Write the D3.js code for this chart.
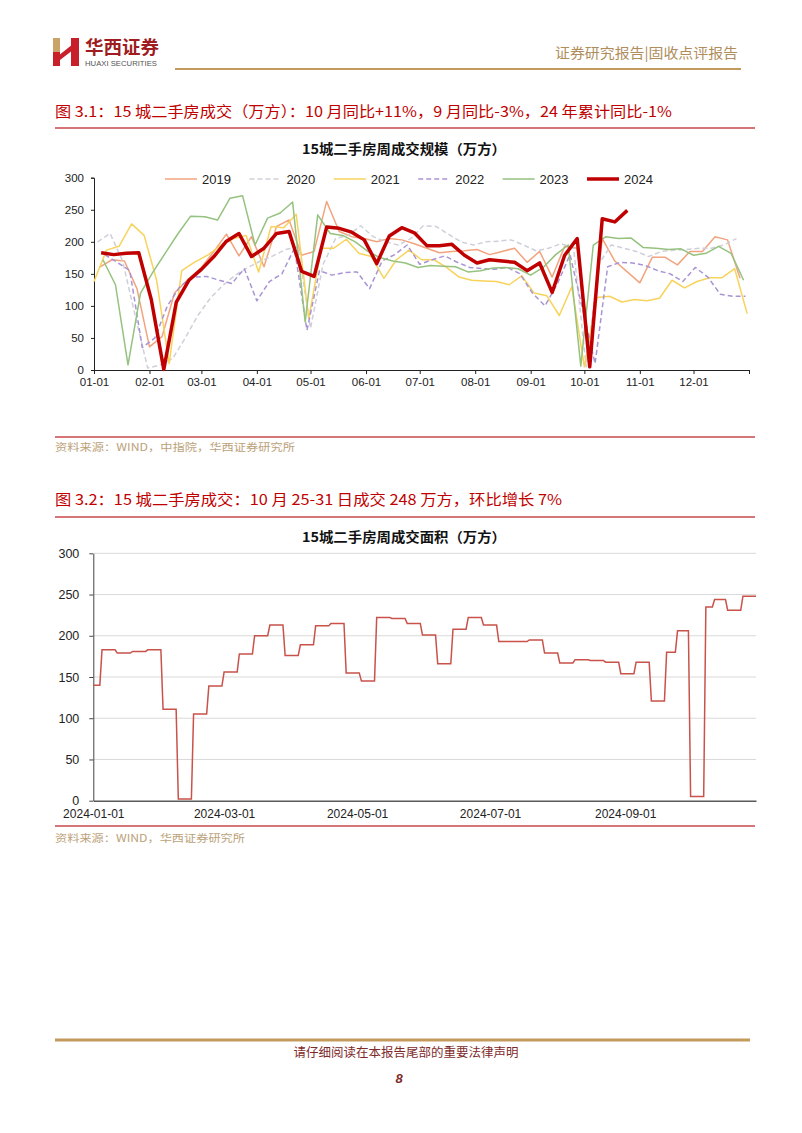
<!DOCTYPE html>
<html><head><meta charset="utf-8">
<script src="https://cdn.jsdelivr.net/npm/d3@7"></script>
<style>body{margin:0;background:#fff}svg{display:block}</style>
</head><body>
<svg id="page" width="802" height="1133"></svg>
<script>
// ---------- data: chart 3.1 (weekly, 万方) ----------
const years = ["2019", "2020", "2021", "2022", "2023", "2024"];
const firstWeek = ["2019-01-04", "2020-01-03", "2021-01-01", "2022-01-07", "2023-01-06", "2024-01-05"];
const v2019 = [160,172,170,127,36,52,120,140,160,185,212,178,208,161,224,234,179,185,263,216,208,205,200,205,203,197,190,183,185,186,188,180,185,190,168,185,145,193,190,30,205,170,153,136,176,176,164,185,185,208,203,143];
const v2020 = [200,213,170,85,3,8,18,50,85,112,132,148,160,170,178,188,192,65,165,205,210,225,208,200,195,205,225,224,212,200,195,200,201,203,195,186,190,197,190,5,165,195,190,185,177,185,187,188,190,190,195,205];
const v2021 = [138,187,193,228,210,140,10,155,168,180,195,205,210,153,224,222,243,80,190,190,204,182,177,143,172,187,172,172,160,145,140,139,138,133,147,120,116,85,130,5,113,115,106,110,108,112,140,128,138,144,144,158,88];
const v2022 = [180,168,155,35,50,100,130,145,146,140,135,158,108,138,150,190,62,155,148,152,153,127,170,180,195,165,172,178,168,160,158,157,160,150,120,100,135,180,95,10,161,168,167,163,155,150,138,160,145,118,115,115];
const v2023 = [172,133,8,120,153,183,213,240,239,234,268,272,195,237,245,262,75,242,213,210,200,185,175,170,167,160,163,162,161,153,155,159,160,158,148,160,180,195,6,195,208,205,206,191,190,188,189,179,182,193,182,140];
const v2024 = [183,180,182,183,110,1,106,140,157,177,201,213,177,190,213,216,154,146,223,221,215,203,166,209,222,214,194,194,196,179,167,172,170,168,155,167,121,179,205,5,236,231,249];
const monthLabels = ["01-01","02-01","03-01","04-01","05-01","06-01","07-01","08-01","09-01","10-01","11-01","12-01"];
const yTicks = [0, 50, 100, 150, 200, 250, 300];
const colors = ["#F2A47E", "#CFCFD9", "#F8D35C", "#A894D4", "#95C27F", "#C00000"];

// ---------- data: chart 3.2 (2024 weekly, drawn per day) ----------
const periodStart = ["2024-01-01","2024-01-05","2024-01-12","2024-01-19","2024-01-26","2024-02-02","2024-02-09","2024-02-16","2024-02-23","2024-03-01","2024-03-08","2024-03-15","2024-03-22","2024-03-29","2024-04-05","2024-04-12","2024-04-19","2024-04-26","2024-05-03","2024-05-10","2024-05-17","2024-05-24","2024-05-31","2024-06-07","2024-06-14","2024-06-21","2024-06-28","2024-07-05","2024-07-12","2024-07-19","2024-07-26","2024-08-02","2024-08-09","2024-08-16","2024-08-23","2024-08-30","2024-09-06","2024-09-13","2024-09-20","2024-09-25","2024-10-01","2024-10-08","2024-10-12","2024-10-18","2024-10-25"];
const periodValue = [140,183,179,181,183,111,2,105,139,156,178,200,213,176,189,212,215,155,145,222,221,215,201,166,208,222,213,193,193,195,179,167,171,170,168,154,168,121,180,206,5,235,244,231,248];
const lastDay = "2024-10-31";
const dateTicks2 = ["2024-01-01","2024-03-01","2024-05-01","2024-07-01","2024-09-01"];

const parse = d3.timeParse("%Y-%m-%d");
const svg = d3.select("#page");
const FONT = "'Liberation Sans','Noto Sans CJK SC',sans-serif";
const CJK = "'Noto Sans CJK SC','Liberation Sans',sans-serif";

// ---------- page header ----------
const logo = svg.append("g");
logo.append("path").attr("d","M53,38 L60,38 L60,66 L53,66 Z").attr("fill","#C9A36A");
logo.append("path").attr("d","M53,52 L60,52 L60,66 L53,66 Z").attr("fill","#C8202B");
logo.append("path").attr("d","M71,38 L79,38 L79,66 L71,66 Z").attr("fill","#C8202B");
logo.append("path").attr("d","M58,56 L73,44 L73,50 L60,60 Z").attr("fill","#C8202B");
svg.append("text").attr("x",85).attr("y",54).text("华西证券")
  .attr("font-family",CJK).attr("font-size",18).attr("font-weight",700).attr("fill","#9E1C22")
  .attr("textLength",74).attr("lengthAdjust","spacingAndGlyphs");
svg.append("text").attr("x",85).attr("y",66).text("HUAXI SECURITIES")
  .attr("font-family",FONT).attr("font-size",7.5).attr("fill","#555")
  .attr("textLength",72).attr("lengthAdjust","spacingAndGlyphs");
svg.append("text").attr("x",738).attr("y",58).attr("text-anchor","end").text("证券研究报告|固收点评报告")
  .attr("font-family",CJK).attr("font-size",14).attr("fill","#B08D5B")
  .attr("textLength",183).attr("lengthAdjust","spacingAndGlyphs");
svg.append("line").attr("x1",175).attr("x2",741).attr("y1",69).attr("y2",69)
  .attr("stroke","#C49A5C").attr("stroke-width",2);

function redRule(y){ svg.append("line").attr("x1",55).attr("x2",755).attr("y1",y).attr("y2",y).attr("stroke","#C8474A").attr("stroke-width",1.5); }
function figTitle(y, t, len){
  svg.append("text").attr("x",55).attr("y",y).text(t).attr("font-family",CJK).attr("font-size",15)
    .attr("fill","#C00000").attr("textLength",len).attr("lengthAdjust","spacingAndGlyphs");
}
function source(y, t, len){
  svg.append("text").attr("x",55).attr("y",y).text(t).attr("font-family",CJK).attr("font-size",10.5).attr("fill","#BBA27A")
    .attr("textLength",len).attr("lengthAdjust","spacingAndGlyphs");
}

figTitle(117, "图 3.1：15 城二手房成交（万方）：10 月同比+11%，9 月同比-3%，24 年累计同比-1%", 617);
redRule(128);

// ---------- chart 1 ----------
const c1 = svg.append("g");
c1.append("text").attr("x",404).attr("y",154).attr("text-anchor","middle").text("15城二手房周成交规模（万方）")
  .attr("font-family",CJK).attr("font-size",13.5).attr("font-weight",700).attr("fill","#111")
  .attr("textLength",204).attr("lengthAdjust","spacingAndGlyphs");

const x1 = d3.scaleTime().domain([new Date(2024,0,1), new Date(2025,0,1)]).range([94, 749]);
const y1 = d3.scaleLinear().domain([0,300]).range([370, 177.7]);

const yAx1 = d3.axisLeft(y1).tickValues(yTicks).tickSize(3).tickPadding(7);
const gy1 = c1.append("g").attr("transform","translate(94,0)").call(yAx1);
gy1.selectAll("path,line").attr("stroke","#222");
gy1.selectAll("text").attr("font-family",FONT).attr("font-size",11.5).attr("fill","#222");

const monthDates = d3.timeMonth.range(new Date(2024,0,1), new Date(2025,0,2));
const xAx1 = d3.axisBottom(x1).tickValues(monthDates).tickSize(4).tickSizeOuter(0).tickPadding(4)
  .tickFormat((d,i) => i < monthLabels.length ? monthLabels[i] : "");
const gx1 = c1.append("g").attr("transform","translate(0,370)").call(xAx1);
gx1.selectAll("path,line").attr("stroke","#222");
gx1.selectAll("text").attr("font-family",FONT).attr("font-size",11.5).attr("fill","#222");

const allSeries = [v2019, v2020, v2021, v2022, v2023, v2024];
const line1 = d3.line().x(d => x1(d.date)).y(d => y1(d.v));
allSeries.forEach((vals, si) => {
  const f = parse(firstWeek[si]);
  const pts = vals.map((v, i) => {
    const d = d3.timeDay.offset(f, 7*i);
    return {date: new Date(2024, d.getMonth(), d.getDate()), v};
  });
  const p = c1.append("path").datum(pts).attr("d", line1).attr("fill","none")
    .attr("stroke", colors[si]).attr("stroke-width", si === 5 ? 3.5 : 1.5)
    .attr("stroke-linejoin","round");
  if (si === 1 || si === 3) p.attr("stroke-dasharray","5,3");
});

// legend
const lg = c1.append("g");
years.forEach((yr, i) => {
  const lx = 165 + i*84.4;
  const l = lg.append("line").attr("x1",lx).attr("x2",lx+32).attr("y1",179).attr("y2",179)
    .attr("stroke",colors[i]).attr("stroke-width", i === 5 ? 3.5 : 1.5);
  if (i === 1 || i === 3) l.attr("stroke-dasharray","5,3");
  lg.append("text").attr("x",lx+37).attr("y",183.5).text(yr)
    .attr("font-family",FONT).attr("font-size",13).attr("fill","#222");
});

redRule(437);
source(451, "资料来源：WIND，中指院，华西证券研究所", 240);

// ---------- chart 2 ----------
figTitle(505, "图 3.2：15 城二手房成交：10 月 25-31 日成交 248 万方，环比增长 7%", 507);
redRule(517);

const c2 = svg.append("g");
c2.append("text").attr("x",404).attr("y",542).attr("text-anchor","middle").text("15城二手房周成交面积（万方）")
  .attr("font-family",CJK).attr("font-size",13.5).attr("font-weight",700).attr("fill","#111")
  .attr("textLength",204).attr("lengthAdjust","spacingAndGlyphs");

const x2 = d3.scaleTime().domain([parse("2024-01-01"), parse(lastDay)]).range([93.3, 756]);
const y2 = d3.scaleLinear().domain([0,300]).range([800.7, 553.3]);

c2.append("g").selectAll("line").data(yTicks.slice(1)).join("line")
  .attr("x1",94).attr("x2",756).attr("y1",d=>y2(d)).attr("y2",d=>y2(d))
  .attr("stroke","#D9D9D9").attr("stroke-width",1);

const gy2 = c2.append("g").attr("transform","translate(93.3,0)")
  .call(d3.axisLeft(y2).tickValues(yTicks).tickSize(4).tickSizeOuter(0).tickPadding(10));
gy2.selectAll("path,line").attr("stroke","#444");
gy2.selectAll("text").attr("font-family",FONT).attr("font-size",12.5).attr("fill","#222");

const gx2 = c2.append("g").attr("transform","translate(0,800.7)")
  .call(d3.axisBottom(x2).tickValues(dateTicks2.map(parse)).tickSize(0).tickSizeOuter(0).tickPadding(9)
    .tickFormat(d3.timeFormat("%Y-%m-%d")));
gx2.select("path").attr("stroke","#595959").attr("stroke-width",1.5);
gx2.selectAll("text").attr("font-family",FONT).attr("font-size",12).attr("fill","#222");

const stepPts = [];
periodStart.forEach((s, i) => {
  const start = parse(s);
  const end = i < periodStart.length - 1 ? d3.timeDay.offset(parse(periodStart[i+1]), -1) : parse(lastDay);
  stepPts.push({date: start, v: periodValue[i]});
  stepPts.push({date: end, v: periodValue[i]});
});
c2.append("path").datum(stepPts)
  .attr("d", d3.line().x(d => x2(d.date)).y(d => y2(d.v)))
  .attr("fill","none").attr("stroke","#C9524B").attr("stroke-width",1.5);

redRule(826);
source(842, "资料来源：WIND，华西证券研究所", 190);

// ---------- footer ----------
svg.append("line").attr("x1",55).attr("x2",750).attr("y1",1040).attr("y2",1040)
  .attr("stroke","#C49A5C").attr("stroke-width",3);
svg.append("text").attr("x",406).attr("y",1057).attr("text-anchor","middle").text("请仔细阅读在本报告尾部的重要法律声明")
  .attr("font-family",CJK).attr("font-size",12.5).attr("fill","#7E2A2A");
svg.append("text").attr("x",399).attr("y",1083).attr("text-anchor","middle").text("8")
  .attr("font-family",FONT).attr("font-size",13).attr("font-weight",700).attr("font-style","italic").attr("fill","#7E2A2A");
</script>
</body></html>
